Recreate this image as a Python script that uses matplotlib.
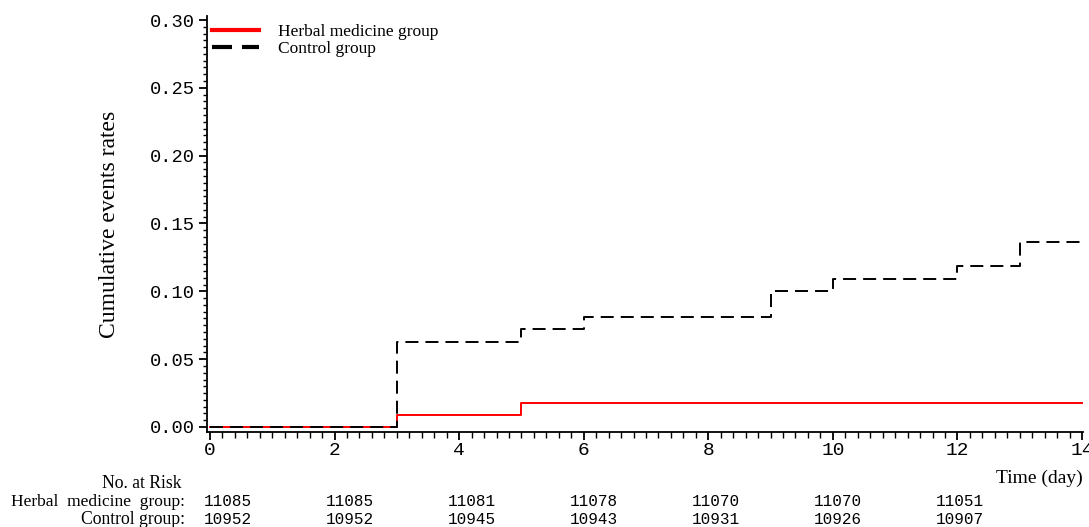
import matplotlib
matplotlib.use("Agg")
import matplotlib.pyplot as plt
from matplotlib.ticker import MultipleLocator, FormatStrFormatter
from matplotlib.lines import Line2D
import matplotlib.transforms as mtransforms

# ---- data ----
herbal_t = [0, 3, 5, 14]
herbal_y = [0.0, 0.0088, 0.0177, 0.0177]
control_t = [0, 3, 5, 6, 9, 10, 12, 13, 14]
control_y = [0.0, 0.0627, 0.0722, 0.0811, 0.1003, 0.1090, 0.1187, 0.1364, 0.1364]

risk_times = [0, 2, 4, 6, 8, 10, 12]
risk_herbal = [11085, 11085, 11081, 11078, 11070, 11070, 11051]
risk_control = [10952, 10952, 10945, 10943, 10931, 10926, 10907]

series_labels = ["Herbal medicine group", "Control group"]
row_labels = ["Herbal  medicine  group:", "Control group:"]

W, H = 1089, 527
fig = plt.figure(figsize=(W / 100, H / 100), dpi=100)
fig.patch.set_facecolor("white")

ax_l, ax_r, ax_t, ax_b = 207, 1083, 16, 432
ax = fig.add_axes([ax_l / W, 1 - ax_b / H, (ax_r - ax_l) / W, (ax_b - ax_t) / H])

ax.step(herbal_t, herbal_y, where="post", color="#ff0000", lw=1.4, zorder=3)
ax.step(control_t, control_y, where="post", color="black", lw=1.4,
        dashes=(6.7, 3.6), zorder=4)

ax.set_xlim(-0.048, 14.016)
ax.set_ylim(-0.00369, 0.30295)

for s in ["top", "right"]:
    ax.spines[s].set_visible(False)
for s in ["left", "bottom"]:
    ax.spines[s].set_linewidth(1.3)

ax.xaxis.set_major_locator(MultipleLocator(2))
ax.xaxis.set_minor_locator(MultipleLocator(0.2))
ax.yaxis.set_major_locator(MultipleLocator(0.05))
ax.yaxis.set_minor_locator(MultipleLocator(0.005))
ax.yaxis.set_major_formatter(FormatStrFormatter("%.2f"))

ax.tick_params(axis="y", which="major", length=6, width=1.3, direction="out", pad=3)
ax.tick_params(axis="y", which="minor", length=3, width=1.0, direction="out")
ax.tick_params(axis="x", which="major", length=6, width=1.3, direction="out", pad=1)
ax.tick_params(axis="x", which="minor", length=4, width=1.0, direction="out")

for lab in ax.get_yticklabels():
    lab.set_fontfamily("Liberation Mono")
    lab.set_fontsize(13.5)
for lab in ax.get_xticklabels():
    lab.set_fontfamily("Liberation Mono")
    lab.set_fontsize(14)

ax.set_ylabel("Cumulative events rates", fontfamily="Liberation Serif", fontsize=17)
ax.yaxis.set_label_coords((120 - ax_l) / (ax_r - ax_l), 0.5)

# legend
handles = [Line2D([], [], color="#ff0000", lw=3.0),
           Line2D([], [], color="black", lw=3.0, dashes=(4.8, 2.4))]
leg = ax.legend(handles, series_labels, loc="upper left",
                bbox_to_anchor=(0.0, 0.993), frameon=False,
                prop={"family": "Liberation Serif", "size": 12.5},
                handlelength=2.7, handletextpad=1.1, labelspacing=0.05,
                borderaxespad=0.0, borderpad=0.3)

fig.text(1083 / W, 1 - 478 / H, "Time (day)", ha="right", va="center",
         fontfamily="Liberation Serif", fontsize=14)

# number at risk
fig.text(182 / W, 1 - 484 / H, "No. at Risk", ha="right", va="center",
         fontfamily="Liberation Serif", fontsize=12.7)
fig.text(185 / W, 1 - 502 / H, row_labels[0], ha="right", va="center",
         fontfamily="Liberation Serif", fontsize=12.5)
fig.text(185 / W, 1 - 519 / H, row_labels[1], ha="right", va="center",
         fontfamily="Liberation Serif", fontsize=12.7)

trans = mtransforms.blended_transform_factory(ax.transData, fig.transFigure)
for t, a, b in zip(risk_times, risk_herbal, risk_control):
    xp = 0.29 + 0.979 * t
    ax.text(xp, 1 - 502 / H, str(a), transform=trans, ha="center", va="center",
            fontfamily="Liberation Mono", fontsize=11.5, clip_on=False)
    ax.text(xp, 1 - 519 / H, str(b), transform=trans, ha="center", va="center",
            fontfamily="Liberation Mono", fontsize=11.5, clip_on=False)

fig.savefig("out.png", dpi=100, facecolor="white")
